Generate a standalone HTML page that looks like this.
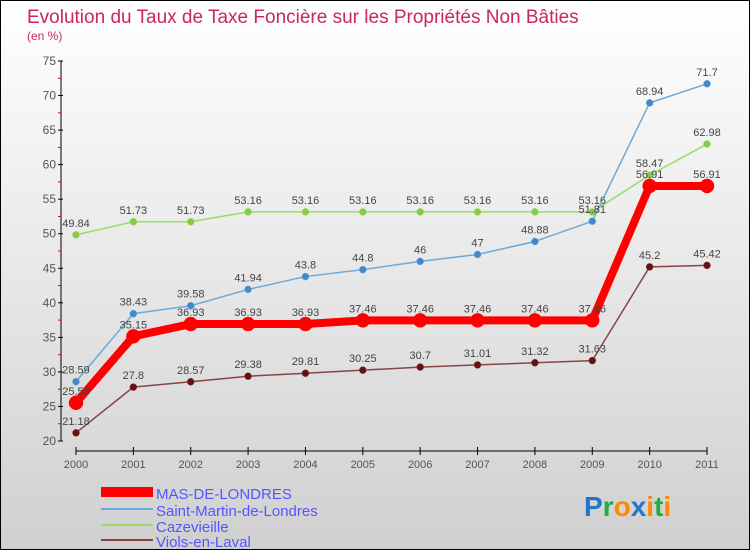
<!DOCTYPE html>
<html><head><meta charset="utf-8"><style>
body{margin:0}
#c{width:750px;height:550px;position:relative;box-sizing:border-box;border:1px solid #000;background:linear-gradient(#ffffff,#d0d0d0);overflow:hidden;font-family:"Liberation Sans",sans-serif}
</style></head><body>
<div id="c">
<svg id="s" width="750" height="550" style="position:absolute;left:0;top:0">
<text x="26" y="22" font-size="19" fill="#c8285a">Evolution du Taux de Taxe Foncière sur les Propriétés Non Bâties</text>
<text x="26" y="39" font-size="12" fill="#c8285a">(en %)</text>
<g id="ax"></g><g id="ser"></g>
<g>
<rect x="100" y="486" width="52" height="10" fill="#ff0000"/>
<text x="155" y="498" font-size="15" fill="#5555ff">MAS-DE-LONDRES</text>
<rect x="100" y="507" width="52" height="2" fill="#6aaadd"/>
<text x="155" y="515" font-size="15" fill="#5555ff">Saint-Martin-de-Londres</text>
<rect x="100" y="523" width="52" height="2" fill="#99dd66"/>
<text x="155" y="531" font-size="15" fill="#5555ff">Cazevieille</text>
<rect x="100" y="538" width="52" height="2" fill="#884444"/>
<text x="155" y="546" font-size="15" fill="#5555ff">Viols-en-Laval</text>
</g>
<g font-size="28" font-weight="bold">
<text x="583" y="515"><tspan fill="#2277cc">P</tspan><tspan fill="#22aa44">r</tspan><tspan fill="#ff8800">o</tspan><tspan fill="#2277cc">x</tspan><tspan fill="#ff8800">i</tspan><tspan fill="#22aa44">t</tspan><tspan fill="#ff8800">i</tspan></text>
</g>
</svg>
</div>
<script>
const years=["2000","2001","2002","2003","2004","2005","2006","2007","2008","2009","2010","2011"];
const yTicks=[20,25,30,35,40,45,50,55,60,65,70,75];
const masVals=[25.53,35.15,36.93,36.93,36.93,37.46,37.46,37.46,37.46,37.46,56.91,56.91];
const smlVals=[28.59,38.43,39.58,41.94,43.8,44.8,46,47,48.88,51.81,68.94,71.7];
const cazVals=[49.84,51.73,51.73,53.16,53.16,53.16,53.16,53.16,53.16,53.16,58.47,62.98];
const violsVals=[21.18,27.8,28.57,29.38,29.81,30.25,30.7,31.01,31.32,31.63,45.2,45.42];
const NS="http://www.w3.org/2000/svg";
const xs=i=>75+i*(706-75)/11;
const ys=v=>440-(v-20)*(380/55);
function mk(t,a,p){const e=document.createElementNS(NS,t);for(const k in a)e.setAttribute(k,a[k]);p.appendChild(e);return e;}
const ax=document.getElementById('ax');
let l=mk('line',{x1:60,y1:ys(75),x2:60,y2:ys(20),stroke:'#000','stroke-width':1},ax);


yTicks.forEach((v,i)=>{
 mk('line',{x1:57,y1:ys(v),x2:62,y2:ys(v),stroke:'#000'},ax);
 if(i<yTicks.length-1) mk('line',{x1:57,y1:ys(v+2.5),x2:60,y2:ys(v+2.5),stroke:'#e00'},ax);
 const t=mk('text',{x:55,y:ys(v)+4,'font-size':12,fill:'#555','text-anchor':'end'},ax);t.textContent=v;
 
 
});
l=mk('line',{x1:75,y1:450,x2:706,y2:450,stroke:'#000'},ax);


years.forEach((y,i)=>{
 mk('line',{x1:xs(i),y1:446,x2:xs(i),y2:454,stroke:'#000'},ax);
 const t=mk('text',{x:xs(i),y:467,'font-size':11,fill:'#555','text-anchor':'middle'},ax);t.textContent=y;
 
 
});
const ser=document.getElementById('ser');
function series(vals,color,dot,w,r,name){
 const g=mk('g',{},ser);
 
 
 mk('polyline',{points:vals.map((v,i)=>xs(i)+','+ys(v)).join(' '),fill:'none',stroke:color,'stroke-width':w,'stroke-linejoin':'round'},g);
 vals.forEach((v,i)=>{
  const c=mk('circle',{cx:xs(i),cy:ys(v),r:r,fill:dot,stroke:color,'stroke-width':0.5},g);
  
  
  const t=mk('text',{x:xs(i),y:ys(v)-8,'font-size':11,fill:'#444','text-anchor':'middle'},g);t.textContent=v;
  
  
 });
}
series(cazVals,'#99dd66','#88cc44',1.5,3.5,'cazevieille');
series(smlVals,'#6aaadd','#4488cc',1.5,3.5,'saint-martin');
series(violsVals,'#884444','#661111',1.5,3.5,'viols');
series(masVals,'#ff0000','#ff0000',8,7,'mas');
</script>
</body></html>
